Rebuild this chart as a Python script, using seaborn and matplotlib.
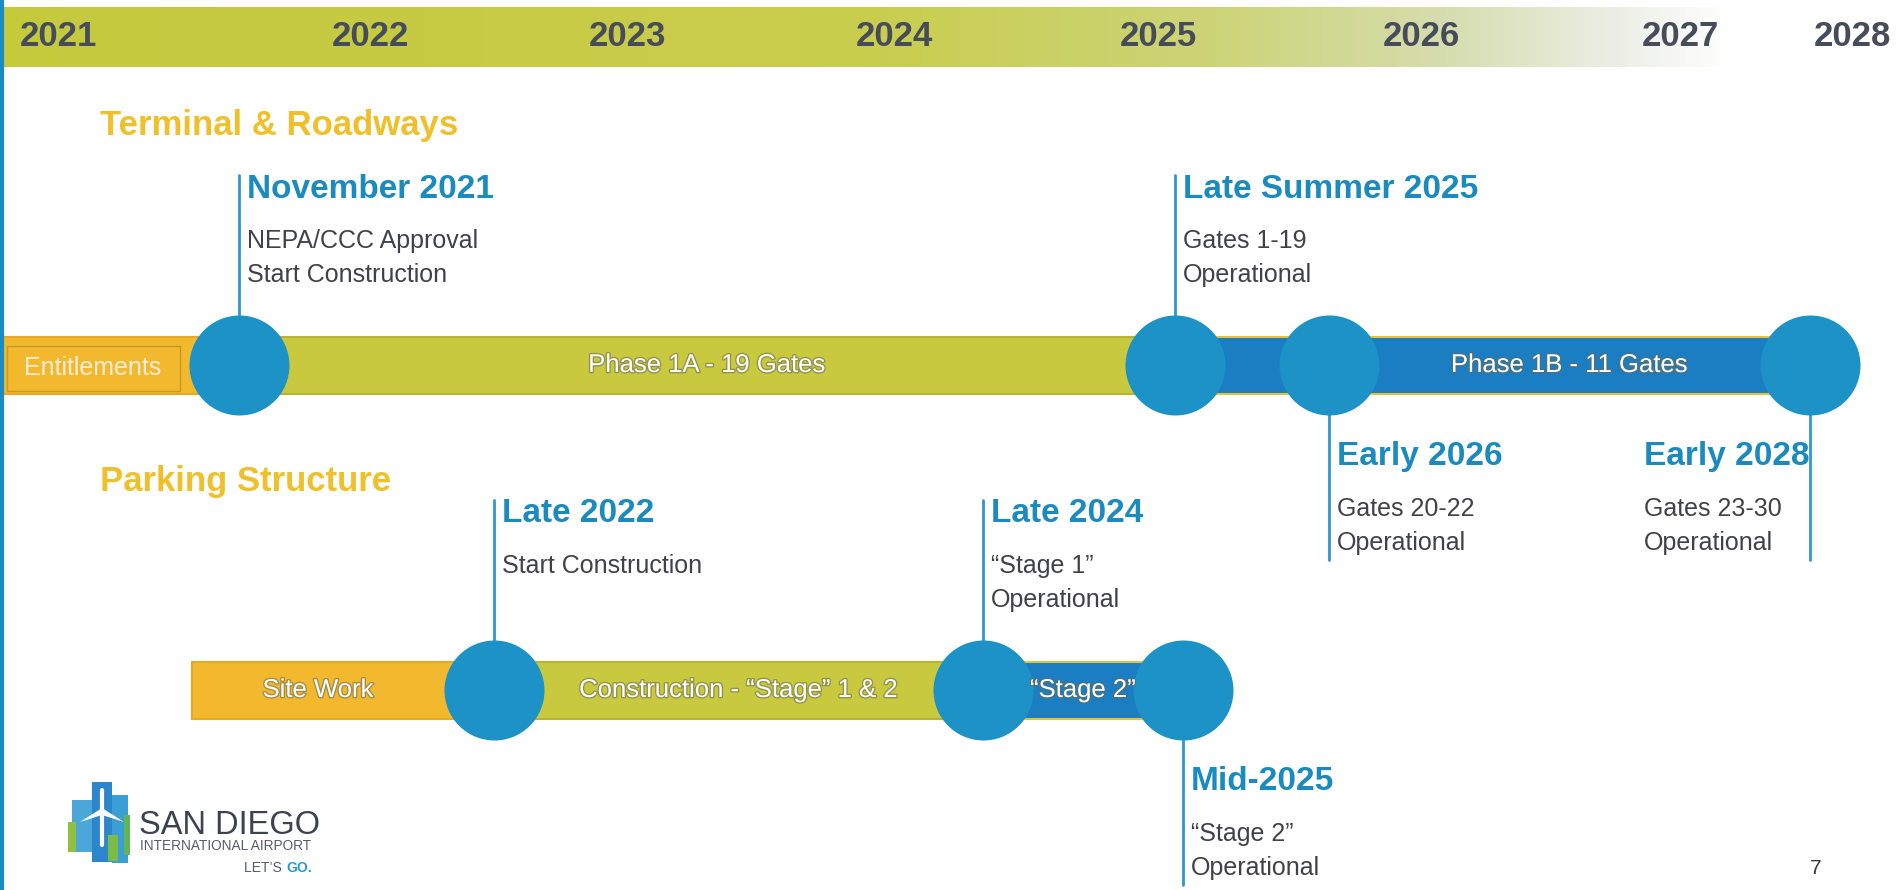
import numpy as np
import pandas as pd
import matplotlib
matplotlib.use("Agg")
import matplotlib.pyplot as plt
import matplotlib.patheffects as pe
from matplotlib import font_manager
from matplotlib.colors import to_rgb
import seaborn as sns

# --- data (timeline positions in slide units, 0..1902) ---
years = ["2021", "2022", "2023", "2024", "2025", "2026", "2027", "2028"]
year_x = [58, 370, 627, 894, 1158, 1421, 1680, 1852]

rows = ["Terminal & Roadways", "Parking Structure"]
row_y = [365, 690]

# phases: (row, label, start, end, kind)
phase_row = [0, 0, 0, 1, 1, 1]
phase_label = ["Entitlements", "Phase 1A - 19 Gates", "Phase 1B - 11 Gates",
               "Site Work", "Construction - \u201cStage\u201d 1 & 2", "\u201cStage 2\u201d"]
phase_start = [0, 239, 1175, 192, 494, 983]
phase_end = [239, 1175, 1810, 494, 983, 1183]
phase_kind = ["orange", "green", "blue", "orange", "green", "blue"]

ms_row = [0, 0, 0, 0, 1, 1, 1]
ms_x = [239, 1175, 1329, 1810, 494, 983, 1183]
ms_title = ["November 2021", "Late Summer 2025", "Early 2026", "Early 2028",
            "Late 2022", "Late 2024", "Mid-2025"]
ms_notes = [["NEPA/CCC Approval", "Start Construction"],
            ["Gates 1-19", "Operational"],
            ["Gates 20-22", "Operational"],
            ["Gates 23-30", "Operational"],
            ["Start Construction"],
            ["\u201cStage 1\u201d", "Operational"],
            ["\u201cStage 2\u201d", "Operational"]]
ms_side = ["up", "up", "down", "down", "up", "up", "down"]

# --- style ---
sns.set_theme(style="white")
fams = {f.name for f in font_manager.fontManager.ttflist}
BASE = "Liberation Sans" if "Liberation Sans" in fams else "DejaVu Sans"
plt.rcParams["font.family"] = [BASE, "DejaVu Sans"]

bar_col = {"orange": "#f2b82e", "green": "#c8c93e", "blue": "#1b7ec2"}
circ_col = "#1c92c6"
line_col = "#2f97cc"
title_col = "#1a8abf"
note_col = "#404149"
year_col = "#464c59"
head_col = "#efc02a"
R = 50  # circle radius in slide units

fig = plt.figure(figsize=(19.02, 8.9), dpi=100)
ax = fig.add_axes([0, 0, 1, 1])

# top year band with gradient fading out to the right
stops = [(0.0, "#c5c93c"), (0.45, "#c9cd4c"), (0.64, "#ccd478"),
         (0.76, "#d6ddae"), (0.85, "#eceee6"), (0.91, "#ffffff"), (1.0, "#ffffff")]
xs = np.linspace(0, 1, 600)
grad = np.zeros((1, len(xs), 3))
for c in range(3):
    grad[0, :, c] = np.interp(xs, [s[0] for s in stops], [to_rgb(s[1])[c] for s in stops])
ax.imshow(grad, extent=[0, 1902, 67, 7], aspect="auto", zorder=1)
for yl, xv in zip(years, year_x):
    ax.text(xv, 36, yl, ha="center", va="center", fontsize=25, fontweight="bold",
            color=year_col, zorder=3)

# left border
ax.plot([1.5, 1.5], [0, 890], color="#1a8cc4", lw=3, zorder=5)

# row headings
for name, yv, dy in zip(rows, row_y, [-240, -208]):
    ax.text(100, yv + dy, name, ha="left", va="center",
            fontsize=25, fontweight="bold", color=head_col)

# phase bars
bar_h = 57
for r, lab, s, e, k in zip(phase_row, phase_label, phase_start, phase_end, phase_kind):
    yv = row_y[r]
    ec = "#e2c23a" if k == "blue" else ("#b9b334" if k == "green" else "#e8a823")
    ax.barh(yv, e - s, left=s, height=bar_h, color=bar_col[k], edgecolor=ec,
            linewidth=1.5, zorder=2)
    if lab == "Entitlements":
        ax.add_patch(plt.Rectangle((7, yv - 19), 173, 45, fill=False,
                                   edgecolor="#c49a22", lw=1, zorder=3))
        ax.text(93, yv + 3, lab, ha="center", va="center", color="#fff4ec",
                fontsize=18, alpha=0.9, zorder=3)
        continue
    # label sits in the widest visible gap between circles on this bar
    pts = sorted({s, e} | {m for rr, m in zip(ms_row, ms_x) if rr == r and s <= m <= e})
    circ = set(m for rr, m in zip(ms_row, ms_x) if rr == r)
    best = None
    for a, b in zip(pts[:-1], pts[1:]):
        a2 = a + R if a in circ else a
        b2 = b - R if b in circ else b
        if best is None or b2 - a2 > best[1] - best[0]:
            best = (a2, b2)
    xc = (best[0] + best[1]) / 2
    t = ax.text(xc, yv, lab, ha="center", va="center", color="white", zorder=9,
                fontsize=18.5)
    t.set_path_effects([pe.withStroke(linewidth=2, foreground="#6a6a52", alpha=0.55)])

# milestone circles via seaborn
df = pd.DataFrame({"x": ms_x, "y": [row_y[r] for r in ms_row]})
sns.scatterplot(data=df, x="x", y="y", s=(2 * R * 0.72) ** 2, color=circ_col,
                linewidth=0, legend=False, ax=ax, zorder=7)

# callouts
for r, xv, title, notes, side in zip(ms_row, ms_x, ms_title, ms_notes, ms_side):
    yv = row_y[r]
    if side == "up":
        hy = yv - 176
        ax.plot([xv, xv], [hy - 14, yv - R + 1], color=line_col, lw=2, zorder=3)
    else:
        hy = yv + 92
        ax.plot([xv, xv], [yv + R - 1, hy + 52 + 34 * (len(notes) - 1) + 17],
                color=line_col, lw=2, zorder=3)
    tx = xv + 8 if title != "Early 2028" else xv - 166
    ax.text(tx, hy, title, ha="left", va="center", fontsize=24,
            fontweight="bold", color=title_col)
    for i, n in enumerate(notes):
        ax.text(tx, hy + 52 + 34 * i, n, ha="left", va="center", fontsize=18,
                color=note_col)

# logo
icon = [(72, 800, 20, 52, "#4aa7d8"), (92, 782, 20, 80, "#2c86cc"),
        (112, 795, 16, 68, "#3b9ed4"), (68, 822, 8, 30, "#8fc03e"),
        (108, 835, 10, 26, "#7cbc46"), (124, 815, 6, 40, "#62b455")]
for x0, y0, w, h, c in icon:
    ax.add_patch(plt.Rectangle((x0, y0), w, h, color=c, lw=0, zorder=3))
ax.plot([102, 102], [790, 845], color="white", lw=3, zorder=4)
ax.add_patch(plt.Polygon([[80, 822], [102, 808], [124, 822], [102, 815]],
                         color="white", lw=0, zorder=4))
ax.text(139, 826, "SAN DIEGO", ha="left", va="center", fontsize=23.5,
        fontweight="medium", color="#3c4350")
ax.text(140, 846, "INTERNATIONAL AIRPORT", ha="left", va="center", fontsize=9.8,
        color="#585c66")
ax.text(286, 868, "LET\u2019S ", ha="right", va="center", fontsize=10, color="#585c66")
ax.text(286, 868, "GO.", ha="left", va="center", fontsize=10, fontweight="bold",
        color="#2a9bd0")

ax.text(1816, 868, "7", ha="center", va="center", fontsize=15, color="#3a3a3a")

ax.set_xlim(0, 1902)
ax.set_ylim(890, 0)
ax.axis("off")

fig.savefig("out.png", dpi=100)
